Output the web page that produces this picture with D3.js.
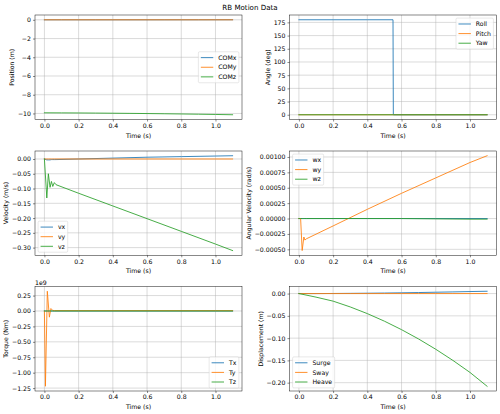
<!DOCTYPE html>
<html>
<head>
<meta charset="utf-8">
<script src="https://cdn.jsdelivr.net/npm/d3@7"></script>
<style>
  html, body { margin: 0; padding: 0; background: #fff; }
  svg { display: block; font-family: "DejaVu Sans", sans-serif; }
</style>
</head>
<body>
<div id="chart"></div>
<script>
// ---- data ----
const xTicks = [0.0, 0.2, 0.4, 0.6, 0.8, 1.0];

// Position
const posTime = [0.0, 0.1, 0.2, 0.3, 0.4, 0.5, 0.6, 0.7, 0.8, 0.9, 1.0, 1.1];
const comX = [0, 0, 0, 0, 0, 0, 0.001, 0.002, 0.003, 0.004, 0.005, 0.006];
const comY = [0, 0, 0, 0, 0, 0, 0, 0, 0, 0, 0, 0];
const comZ = [-9.93, -9.938, -9.947, -9.96, -9.975, -9.992, -10.011, -10.032, -10.055, -10.08, -10.107, -10.138];
const posTicks = [0, -2, -4, -6, -8, -10];

// Angle
const angTime = [0.0, 0.2, 0.4, 0.55, 0.552, 0.8, 1.0, 1.1];
const roll = [180, 180, 180, 180, 0, 0, 0, 0];
const pitch = [0, 0, 0, 0, 0, 0, 0, 0];
const yaw = [0, 0, 0, 0, 0, 0, 0, 0];
const angTicks = [0, 25, 50, 75, 100, 125, 150, 175];

// Velocity
const velTime = [0.0, 0.014, 0.023, 0.033, 0.041, 0.049, 0.058, 0.068, 0.2, 0.4, 0.6, 0.8, 1.0, 1.1];
const vx = [0, -0.003, -0.003, -0.003, -0.002, -0.002, -0.002, -0.002, 0.0, 0.003, 0.006, 0.008, 0.010, 0.011];
const vy = [0, 0, 0, 0, 0, 0, 0, 0, 0, 0, 0, 0, 0, 0];
const vz = [0, -0.132, -0.05, -0.096, -0.076, -0.093, -0.08, -0.087, -0.116, -0.159, -0.202, -0.245, -0.288, -0.31];
const velTicks = [0, -0.05, -0.10, -0.15, -0.20, -0.25, -0.30];

// Angular velocity
const angVelTime = [0.0, 0.01, 0.019, 0.029, 0.035, 0.043, 0.2, 0.4, 0.6, 0.8, 1.0, 1.1];
const wx = [0, 0, 0, 0, 0, 0, 0, 0, 0, 0, 0, 0];
const wy = [0, 0, -0.00052, -0.0003, -0.00035, -0.00033, -0.00012, 0.00015, 0.00041, 0.00066, 0.00091, 0.00102];
const wz = [0, 0, 0, 0, 0, 0, 0, 0, 0, -0.000005, -0.00001, -0.00001];
const angVelTicks = [-0.0005, -0.00025, 0, 0.00025, 0.0005, 0.00075, 0.001];

// Torque (units of 1e9 Nm)
const torqueTime = [0.0, 0.006, 0.017, 0.029, 0.038, 0.048, 0.06, 0.2, 0.6, 1.0, 1.1];
const tx = [0, 0, 0, 0, 0, 0, 0, 0, 0, 0, 0];
const ty = [0, -1.22, 0.32, -0.1, 0.04, 0.01, 0.006, 0.006, 0.006, 0.006, 0.006];
const tz = [0, 0, 0, 0, 0, 0, 0, 0, 0, 0, 0];
const torqueTicks = [0.25, 0, -0.25, -0.5, -0.75, -1.0, -1.25];

// Displacement
const dispTime = [0.0, 0.1, 0.2, 0.3, 0.4, 0.5, 0.6, 0.7, 0.8, 0.9, 1.0, 1.1];
const surge = [0, 0, 0.0002, 0.0005, 0.0008, 0.0012, 0.0017, 0.0023, 0.003, 0.0037, 0.0045, 0.0052];
const sway = [0, 0, 0, 0, 0, 0, 0, 0, 0, 0, 0, 0];
const heave = [0, -0.008, -0.017, -0.03, -0.045, -0.062, -0.081, -0.102, -0.125, -0.15, -0.177, -0.208];
const dispTicks = [0, -0.05, -0.10, -0.15, -0.20];

const colors = ['#1f77b4', '#ff7f0e', '#2ca02c'];

// ---- layout ----
const W = 500, H = 414;
const pt = 500 / 12 / 72;          // px per point
const fs = 6.2;                     // tick / label / legend font
const colX = [[35, 242], [289.5, 496.5]];
const rowY = [[15, 119.5], [151, 255.3], [286.5, 391]];

const svg = d3.select('#chart').append('svg')
    .attr('width', W)
    .attr('height', H);

svg.append('text')
    .attr('x', W / 2)
    .attr('y', 10)
    .attr('text-anchor', 'middle')
    .attr('fill', '#000')
    .style('font-size', '7.1px')
    .text('RB Motion Data');

const panels = [
    { col: 0, row: 0, time: posTime, series: [['COMx', comX], ['COMy', comY], ['COMz', comZ]],
      yTicks: posTicks, fmt: d3.format('d'), yLabel: 'Position (m)', legend: 'center right' },
    { col: 1, row: 0, time: angTime, series: [['Roll', roll], ['Pitch', pitch], ['Yaw', yaw]],
      yTicks: angTicks, fmt: d3.format('d'), yLabel: 'Angle (deg)', legend: 'upper right' },
    { col: 0, row: 1, time: velTime, series: [['vx', vx], ['vy', vy], ['vz', vz]],
      yTicks: velTicks, fmt: d3.format('.2f'), yLabel: 'Velocity (m/s)', legend: 'lower left' },
    { col: 1, row: 1, time: angVelTime, series: [['wx', wx], ['wy', wy], ['wz', wz]],
      yTicks: angVelTicks, fmt: d3.format('.5f'), yLabel: 'Angular Velocity (rad/s)', legend: 'upper left' },
    { col: 0, row: 2, time: torqueTime, series: [['Tx', tx], ['Ty', ty], ['Tz', tz]],
      yTicks: torqueTicks, fmt: d3.format('.2f'), yLabel: 'Torque (Nm)', legend: 'lower right', offset: '1e9' },
    { col: 1, row: 2, time: dispTime, series: [['Surge', surge], ['Sway', sway], ['Heave', heave]],
      yTicks: dispTicks, fmt: d3.format('.2f'), yLabel: 'Displacement (m)', legend: 'lower left' }
];

panels.forEach(p => drawPanel(p));

function drawPanel(p) {
    const [x0, x1] = colX[p.col];
    const [y0, y1] = rowY[p.row];

    const tExt = d3.extent(p.time);
    const tPad = (tExt[1] - tExt[0]) * 0.05;
    const x = d3.scaleLinear().domain([tExt[0] - tPad, tExt[1] + tPad]).range([x0, x1]);

    const allVals = p.series.flatMap(s => s[1]);
    const yExt = d3.extent(allVals);
    const yPad = (yExt[1] - yExt[0]) * 0.05;
    const y = d3.scaleLinear().domain([yExt[0] - yPad, yExt[1] + yPad]).range([y1, y0]);

    const g = svg.append('g');

    // grid
    g.append('g').selectAll('line').data(xTicks).enter().append('line')
        .attr('x1', d => x(d)).attr('x2', d => x(d))
        .attr('y1', y0).attr('y2', y1)
        .attr('stroke', '#b0b0b0').attr('stroke-width', 0.8 * pt);
    g.append('g').selectAll('line').data(p.yTicks).enter().append('line')
        .attr('x1', x0).attr('x2', x1)
        .attr('y1', d => y(d)).attr('y2', d => y(d))
        .attr('stroke', '#b0b0b0').attr('stroke-width', 0.8 * pt);

    // clipped lines
    const clipId = `clip-${p.col}-${p.row}`;
    svg.append('clipPath').attr('id', clipId)
        .append('rect').attr('x', x0).attr('y', y0).attr('width', x1 - x0).attr('height', y1 - y0);

    const line = d3.line()
        .x((d, i) => x(p.time[i]))
        .y(d => y(d));

    p.series.forEach((s, i) => {
        g.append('path')
            .datum(s[1])
            .attr('clip-path', `url(#${clipId})`)
            .attr('fill', 'none')
            .attr('stroke', colors[i])
            .attr('stroke-width', 1.5 * pt)
            .attr('stroke-linejoin', 'round')
            .attr('stroke-linecap', 'square')
            .attr('d', line);
    });

    // axes
    const xAxis = d3.axisBottom(x).tickValues(xTicks).tickFormat(d3.format('.1f'))
        .tickSize(3.5 * pt).tickPadding(3.5 * pt);
    const gx = g.append('g')
        .attr('transform', `translate(0,${y1})`)
        .call(xAxis);
    const yAxis = d3.axisLeft(y).tickValues(p.yTicks).tickFormat(p.fmt)
        .tickSize(3.5 * pt).tickPadding(3.5 * pt);
    const gy = g.append('g')
        .attr('transform', `translate(${x0},0)`)
        .call(yAxis);

    [gx, gy].forEach(a => {
        a.select('.domain').remove();
        a.selectAll('line').attr('stroke', '#000').attr('stroke-width', 0.8 * pt);
        a.selectAll('text').style('font-size', fs + 'px').attr('fill', '#000')
            .style('font-family', '"DejaVu Sans", sans-serif');
    });

    // frame
    g.append('rect')
        .attr('x', x0).attr('y', y0)
        .attr('width', x1 - x0).attr('height', y1 - y0)
        .attr('fill', 'none')
        .attr('stroke', '#000')
        .attr('stroke-width', 0.8 * pt);

    // x label
    g.append('text')
        .attr('x', (x0 + x1) / 2)
        .attr('y', y1 + 3.5 * pt + 3.5 * pt + fs * 1.1 + 4 * pt + fs * 0.8)
        .attr('text-anchor', 'middle')
        .attr('fill', '#000')
        .style('font-size', fs + 'px')
        .text('Time (s)');

    // y label, placed left of tick labels (bbox is in the axis group's own space)
    const bb = gy.node().getBBox();
    const lx = x0 + bb.x - 4 * pt - fs * 0.24;
    g.append('text')
        .attr('transform', `translate(${lx},${(y0 + y1) / 2}) rotate(-90)`)
        .attr('text-anchor', 'middle')
        .attr('fill', '#000')
        .style('font-size', fs + 'px')
        .text(p.yLabel);

    if (p.offset) {
        g.append('text')
            .attr('x', x0)
            .attr('y', y0 - 2)
            .attr('fill', '#000')
            .style('font-size', fs + 'px')
            .text(p.offset);
    }

    drawLegend(g, p, x0, x1, y0, y1);
}

function drawLegend(g, p, x0, x1, y0, y1) {
    const pad = 0.4 * fs, spacing = 0.45 * fs, handleLen = 2 * fs, handlePad = 0.8 * fs;
    const axPad = 0.5 * fs, rowH = fs * 1.1;
    const lg = g.append('g');
    const box = lg.append('rect');
    const texts = p.series.map((s, i) => lg.append('text')
        .attr('fill', '#000')
        .style('font-size', fs + 'px')
        .text(s[0]));
    const maxW = d3.max(texts, t => t.node().getComputedTextLength());
    const w = pad + handleLen + handlePad + maxW + pad;
    const h = 2 * pad + p.series.length * rowH + (p.series.length - 1) * spacing;

    let lx, ly;
    if (p.legend === 'center right') { lx = x1 - axPad - w; ly = (y0 + y1) / 2 - h / 2; }
    if (p.legend === 'upper right') { lx = x1 - axPad - w; ly = y0 + axPad; }
    if (p.legend === 'upper left') { lx = x0 + axPad; ly = y0 + axPad; }
    if (p.legend === 'lower left') { lx = x0 + axPad; ly = y1 - axPad - h; }
    if (p.legend === 'lower right') { lx = x1 - axPad - w; ly = y1 - axPad - h; }

    box.attr('x', lx).attr('y', ly).attr('width', w).attr('height', h)
        .attr('rx', 0.2 * fs)
        .attr('fill', 'rgba(255,255,255,0.8)')
        .attr('stroke', 'rgba(204,204,204,0.8)')
        .attr('stroke-width', pt);

    p.series.forEach((s, i) => {
        const cy = ly + pad + i * (rowH + spacing) + rowH / 2;
        lg.append('line')
            .attr('x1', lx + pad).attr('x2', lx + pad + handleLen)
            .attr('y1', cy).attr('y2', cy)
            .attr('stroke', colors[i])
            .attr('stroke-width', 1.5 * pt);
        texts[i].attr('x', lx + pad + handleLen + handlePad).attr('y', cy + fs * 0.36);
    });
}
</script>
</body>
</html>
